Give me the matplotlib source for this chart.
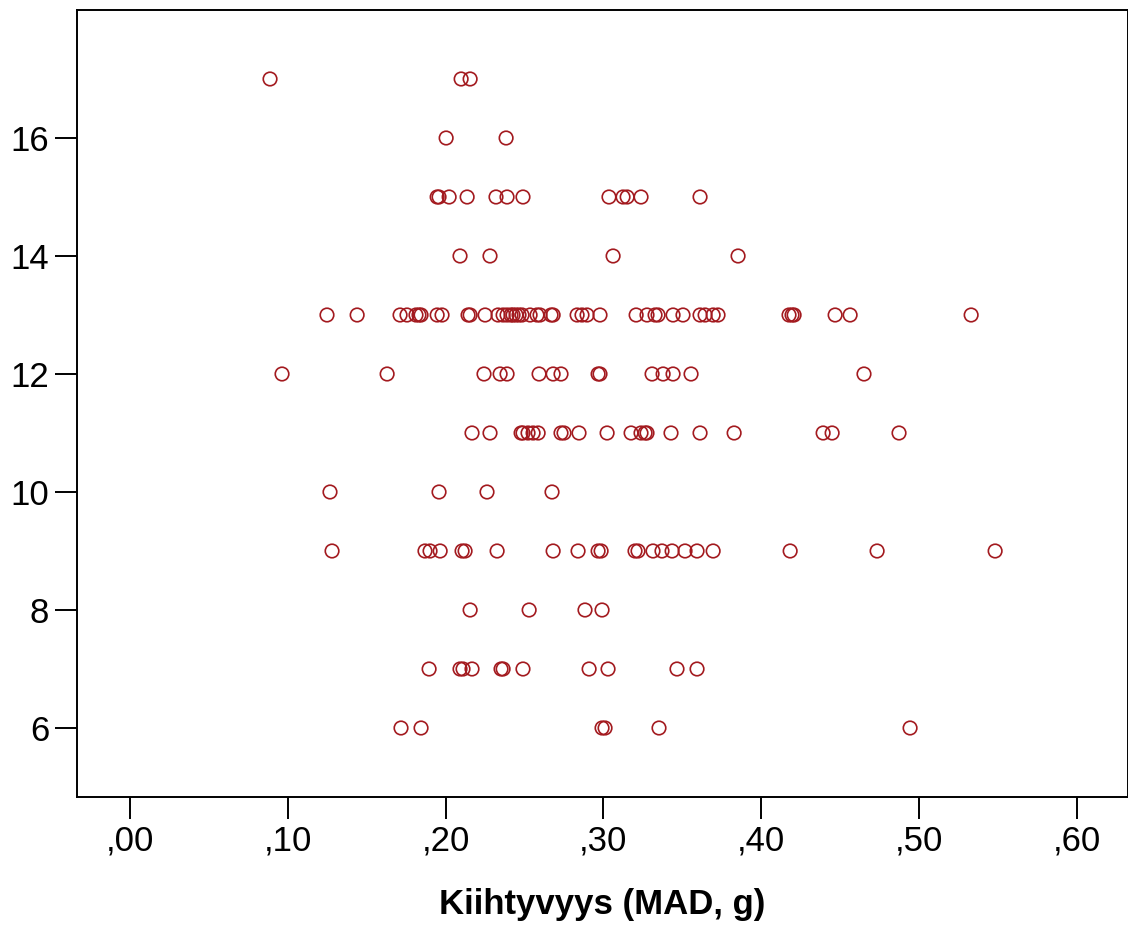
import matplotlib
matplotlib.use("Agg")
import matplotlib.pyplot as plt

plt.rcParams['font.family'] = ['Liberation Sans', 'DejaVu Sans']

# MAD acceleration values, grouped by y row
rows = [17, 16, 15, 14, 13, 12, 11, 10, 9, 8, 7, 6]
mad = {
    17: [0.0887, 0.2098, 0.2155],
    16: [0.2003, 0.2383],
    15: [0.1946, 0.1958, 0.2022, 0.2136, 0.2319, 0.2389, 0.2490, 0.3035,
         0.3124, 0.3150, 0.3238, 0.3612],
    14: [0.2091, 0.2281, 0.3061, 0.3853],
    13: [0.1248, 0.1439, 0.1711, 0.1755, 0.1812, 0.1831, 0.1844, 0.1946,
         0.1977, 0.2142, 0.2155, 0.2250, 0.2332, 0.2364, 0.2389, 0.2414,
         0.2427, 0.2446, 0.2465, 0.2484, 0.2535, 0.2579, 0.2598, 0.2668,
         0.2681, 0.2833, 0.2864, 0.2896, 0.2978, 0.3207, 0.3276, 0.3327,
         0.3346, 0.3441, 0.3504, 0.3612, 0.3644, 0.3695, 0.3726, 0.4176,
         0.4195, 0.4208, 0.4468, 0.4563, 0.5330],
    12: [0.0963, 0.1629, 0.2243, 0.2345, 0.2389, 0.2592, 0.2681, 0.2731,
         0.2966, 0.2978, 0.3308, 0.3378, 0.3441, 0.3555, 0.4651],
    11: [0.2167, 0.2281, 0.2478, 0.2490, 0.2522, 0.2554, 0.2586, 0.2731,
         0.2750, 0.2845, 0.3023, 0.3175, 0.3238, 0.3264, 0.3276, 0.3428,
         0.3612, 0.3828, 0.4392, 0.4449, 0.4873],
    10: [0.1267, 0.1958, 0.2262, 0.2674],
    9: [0.1280, 0.1869, 0.1901, 0.1965, 0.2104, 0.2123, 0.2326, 0.2681,
        0.2839, 0.2966, 0.2985, 0.3200, 0.3219, 0.3314, 0.3371, 0.3435,
        0.3517, 0.3593, 0.3695, 0.4183, 0.4734, 0.5482],
    8: [0.2155, 0.2529, 0.2883, 0.2991],
    7: [0.1895, 0.2091, 0.2110, 0.2167, 0.2351, 0.2364, 0.2490, 0.2909,
        0.3029, 0.3466, 0.3593],
    6: [0.1717, 0.1844, 0.2991, 0.3010, 0.3352, 0.4943],
}

x_ticks = [0.0, 0.1, 0.2, 0.3, 0.4, 0.5, 0.6]
x_labels = [',00', ',10', ',20', ',30', ',40', ',50', ',60']
y_ticks = [6, 8, 10, 12, 14, 16]

xs, ys = [], []
for r in rows:
    xs += mad[r]
    ys += [r] * len(mad[r])

fig = plt.figure(figsize=(11.28, 9.31), dpi=100)
ax = fig.add_axes([0.0683, 0.1439, 0.9317, 0.8454])

ax.scatter(xs, ys, s=95, facecolors='none', edgecolors='#a31a1f', linewidths=1.2)

ax.set_xlim(-0.0336, 0.6324)
ax.set_ylim(4.83, 18.17)
ax.set_xticks(x_ticks)
ax.set_xticklabels(x_labels)
ax.set_yticks(y_ticks)

for sp in ax.spines.values():
    sp.set_linewidth(1.4)
ax.tick_params(direction='out', length=16, width=1.4, labelsize=25, pad=4)
ax.set_xlabel('Kiihtyvyys (MAD, g)', fontsize=25, fontweight='bold', labelpad=22)

fig.savefig('out.png', dpi=100)
